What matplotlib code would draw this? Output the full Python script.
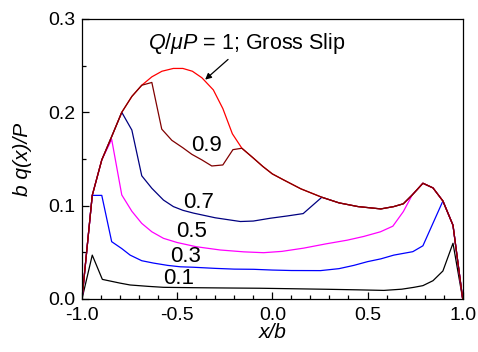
import numpy as np
import matplotlib
matplotlib.use("Agg")
import matplotlib.pyplot as plt

plt.rcParams['font.family'] = ['Liberation Sans', 'DejaVu Sans']
plt.rcParams['mathtext.fontset'] = 'custom'
plt.rcParams['mathtext.it'] = 'Liberation Sans:italic'
plt.rcParams['mathtext.rm'] = 'Liberation Sans'

# Gross slip (Q/muP = 1)
gs_x = [-1.0, -0.946, -0.896, -0.844, -0.791, -0.738, -0.686, -0.633, -0.58, -0.52,
        -0.47, -0.42, -0.37, -0.31, -0.26, -0.21, -0.16, -0.1, -0.05, 0.0, 0.06,
        0.15, 0.26, 0.35, 0.45, 0.57, 0.638, 0.688, 0.735, 0.791, 0.844, 0.896, 0.949, 1.0]
gs_y = [0.0, 0.111, 0.149, 0.174, 0.200, 0.217, 0.229, 0.238, 0.244, 0.247,
        0.247, 0.244, 0.237, 0.224, 0.204, 0.177, 0.1615, 0.151, 0.142, 0.134, 0.1275,
        0.118, 0.109, 0.103, 0.099, 0.0965, 0.099, 0.102, 0.1115, 0.124, 0.119, 0.105, 0.079, 0.0]

# Q/muP = 0.9 (own part between shared segments)
q09_x = [-0.633, -0.581, -0.528, -0.47, -0.423, -0.37, -0.318, -0.26, -0.207]
q09_y = [0.232, 0.182, 0.170, 0.162, 0.155, 0.149, 0.1425, 0.1436, 0.160]
q09_lim = (-0.686, -0.16)

# Q/muP = 0.7
q07_x = [-0.738, -0.686, -0.633, -0.572, -0.52, -0.47, -0.414, -0.3, -0.168, -0.1,
         -0.011, 0.08, 0.162]
q07_y = [0.181, 0.132, 0.1186, 0.106, 0.099, 0.095, 0.092, 0.087, 0.083, 0.0835,
         0.0865, 0.089, 0.0915]
q07_lim = (-0.791, 0.26)

# Q/muP = 0.5
q05_x = [-0.844, -0.791, -0.738, -0.686, -0.633, -0.572, -0.5, -0.4, -0.274, -0.15,
         -0.046, 0.05, 0.165, 0.28, 0.393, 0.48, 0.568, 0.633, 0.688]
q05_y = [0.171, 0.1115, 0.094, 0.081, 0.072, 0.065, 0.0605, 0.056, 0.0525, 0.0505,
         0.0496, 0.051, 0.0545, 0.059, 0.063, 0.067, 0.072, 0.078, 0.0936]
q05_lim = (-0.896, 0.735)

# Q/muP = 0.3
q03_x = [-0.896, -0.844, -0.791, -0.747, -0.686, -0.625, -0.55, -0.484, -0.414, -0.3,
         -0.2, -0.098, 0.0, 0.1, 0.253, 0.35, 0.428, 0.5, 0.57, 0.638, 0.738, 0.791]
q03_y = [0.111, 0.0614, 0.054, 0.047, 0.041, 0.0385, 0.036, 0.0345, 0.034, 0.0328,
         0.032, 0.0318, 0.031, 0.0305, 0.0304, 0.0325, 0.036, 0.040, 0.043, 0.047, 0.0507, 0.057]
q03_lim = (-0.946, 0.896)

# Q/muP = 0.1
q01_x = [-1.0, -0.946, -0.893, -0.8, -0.747, -0.65, -0.572, -0.414, -0.25, -0.063,
         0.1, 0.288, 0.45, 0.586, 0.68, 0.744, 0.791, 0.844, 0.896, 0.949, 1.0]
q01_y = [0.0, 0.047, 0.021, 0.017, 0.015, 0.0135, 0.0125, 0.0121, 0.0118, 0.0115,
         0.011, 0.0104, 0.0098, 0.0092, 0.0105, 0.0125, 0.0143, 0.0196, 0.030, 0.0597, 0.0]

labels = ["0.9", "0.7", "0.5", "0.3", "0.1"]
label_x = [-0.347, -0.388, -0.423, -0.458, -0.493]
label_y = [0.164, 0.103, 0.072, 0.046, 0.022]


def build(own_x, own_y, lim):
    gx = np.array(gs_x)
    gy = np.array(gs_y)
    left = gx <= lim[0] + 1e-9
    right = gx >= lim[1] - 1e-9
    x = np.concatenate([gx[left], own_x, gx[right]])
    y = np.concatenate([gy[left], own_y, gy[right]])
    return x, y


fig = plt.figure(figsize=(4.78, 3.52), dpi=100)
ax = fig.add_axes([0.1715, 0.1506, 0.7965, 0.7955])

lw = 0.9
ax.plot(q01_x, q01_y, color='black', lw=lw)
ax.plot(*build(q03_x, q03_y, q03_lim), color='#0000ff', lw=lw)
ax.plot(*build(q05_x, q05_y, q05_lim), color='#ff00ff', lw=lw)
ax.plot(*build(q07_x, q07_y, q07_lim), color='#000080', lw=lw)
ax.plot(gs_x, gs_y, color='#ff0000', lw=lw)
ax.plot(*build(q09_x, q09_y, q09_lim), color='#800000', lw=lw)

for t, x, y in zip(labels, label_x, label_y):
    ax.text(x, y, t, fontsize=16, ha='center', va='center')

ax.annotate(r"$Q/\mu P$ = 1; Gross Slip", xy=(-0.353, 0.235), xytext=(-0.655, 0.274),
            fontsize=15.5, ha='left', va='center',
            arrowprops=dict(arrowstyle='-|>', color='black', lw=0.9,
                            shrinkA=1, shrinkB=0, mutation_scale=9),
            annotation_clip=False)

ax.set_xlim(-1.0, 1.0)
ax.set_ylim(0.0, 0.3)
ax.set_xticks([-1.0, -0.5, 0.0, 0.5, 1.0])
ax.set_xticks(np.arange(-0.9, 1.0, 0.1), minor=True)
ax.set_yticks([0.0, 0.1, 0.2, 0.3])
ax.set_yticks([0.05, 0.15, 0.25], minor=True)
ax.xaxis.set_major_formatter(matplotlib.ticker.FormatStrFormatter('%.1f'))
ax.yaxis.set_major_formatter(matplotlib.ticker.FormatStrFormatter('%.1f'))
ax.tick_params(which='both', direction='in', top=False, right=False, labelsize=14, width=0.9)
ax.tick_params(which='major', length=5)
ax.tick_params(axis='x', which='major', pad=6)
ax.tick_params(axis='y', which='major', pad=5)
ax.tick_params(which='minor', length=3)
for s in ax.spines.values():
    s.set_linewidth(0.9)

ax.set_xlabel("x/b", fontsize=15, style='italic', labelpad=-1)
ax.set_ylabel("b q(x)/P", fontsize=15, style='italic')
ax.yaxis.set_label_coords(-0.13, 0.5)

fig.savefig("out.png", dpi=100)
